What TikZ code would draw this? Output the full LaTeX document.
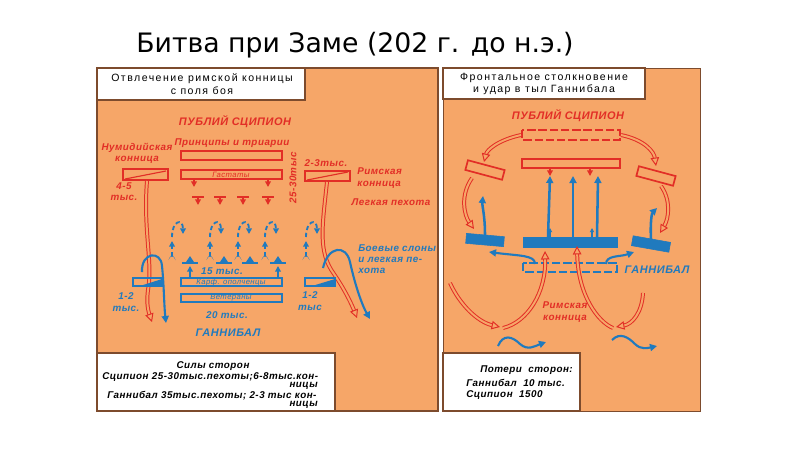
\documentclass[tikz,border=0pt]{standalone}
\usepackage{fontspec}
\setmainfont{DejaVu Sans}
\newfontfamily\lblfont[LetterSpace=5]{Liberation Sans}
\newfontfamily\hdrfont[LetterSpace=14]{Liberation Sans}
\usetikzlibrary{arrows.meta}

\definecolor{zorange}{RGB}{246,166,104}
\definecolor{zred}{RGB}{226,46,38}
\definecolor{zblue}{RGB}{32,122,190}
\definecolor{zbrown}{RGB}{125,75,45}

\tikzset{
    lbl/.style={font=\lblfont\bfseries\itshape\fontsize{7}{8}\selectfont, inner sep=0pt, align=center},
    redlbl/.style={lbl, text=zred},
    bluelbl/.style={lbl, text=zblue},
    biglbl/.style={font=\lblfont\bfseries\itshape\fontsize{7.8}{9}\selectfont},
    hdr/.style={font=\hdrfont\fontsize{7.5}{9}\selectfont, inner sep=0pt, align=center},
    redarr/.style={draw=zred, line width=0.7pt, double=zorange, double distance=1.4pt,
        -{Triangle[open, fill=zorange, length=6pt, width=6pt]}},
    bluearr/.style={draw=zblue, line width=1.8pt, -{Triangle[length=5pt, width=5pt]}},
    bluedash/.style={draw=zblue, line width=1.3pt, dash pattern=on 3pt off 2pt, -{Triangle[length=4pt, width=4pt]}},
    redbox/.style={draw=zred, line width=1.2pt, fill=zorange, minimum width=38*0.025cm, minimum height=10*0.025cm, inner sep=0pt},
    bluebox/.style={draw=zblue, fill=zblue, minimum width=38*0.025cm, minimum height=10*0.025cm, inner sep=0pt}
}

\begin{document}
\begin{tikzpicture}[x=0.025cm, y=-0.025cm]
    \useasboundingbox (0,0) rectangle (800,449);

    % title
    \node (title) at (355,45) {\fontsize{19}{21}\selectfont Битва при Заме (202 г. до н.э.)};

    % panels
    \fill[zorange] (97,68) rectangle (438,411);
    \fill[zorange] (443,68) rectangle (700,411);
    \draw[zbrown, line width=1pt] (97,68) rectangle (438,411);
    \draw[zbrown, line width=0.6pt] (443,68) rectangle (700,411);

    % white boxes
    \draw[zbrown, fill=white, line width=0.8pt] (97,68) rectangle (305,100);
    \draw[zbrown, fill=white, line width=0.8pt] (443,68) rectangle (645,99);
    \draw[zbrown, fill=white, line width=0.8pt] (97,353) rectangle (335,411);
    \draw[zbrown, fill=white, line width=0.8pt] (443,353) rectangle (580,411);

    \node[hdr] (hdrL) at (202,84) {Отвлечение римской конницы\\с поля боя};
    \node[hdr] (hdrR) at (544,84) {Фронтальное столкновение\\и удар в тыл Ганнибала};

    \node[lbl] (forces) at (213,366) {Силы сторон};
    \node[lbl, anchor=west] (forcesA) at (102,377) {Сципион 25-30тыс.пехоты;6-8тыс.кон-};
    \node[lbl, anchor=east] (forcesB) at (318,386) {ницы};
    \node[lbl, anchor=west] (forcesC) at (107,396) {Ганнибал 35тыс.пехоты; 2-3 тыс кон-};
    \node[lbl, anchor=east] (forcesD) at (318,405) {ницы};

    \node[lbl, anchor=west] (lossA) at (480,370) {Потери \ сторон:};
    \node[lbl, anchor=west] (lossB) at (466,383) {Ганнибал \ 10 тыс.};
    \node[lbl, anchor=west] (lossC) at (466,395) {Сципион \ 1500};

    % ---- left panel: Scipio ----
    \node[redlbl, biglbl] (scipioL) at (235,122) {ПУБЛИЙ СЦИПИОН};
    \node[redlbl] (princ) at (232,143) {Принципы и триарии};
    \draw[zred, line width=1.2pt] (181,151) rectangle (282,160);
    \draw[zred, line width=1.2pt] (181,170) rectangle (282,179);
    \node[redlbl, font=\lblfont\itshape\fontsize{5.5}{6}\selectfont] (hast) at (231,174.5) {Гастаты};
    \node[redlbl] (numid) at (137,153) {Нумидийская\\конница};
    \draw[zred, line width=1.2pt] (123,169) rectangle (168,180);
    \draw[zred, line width=0.8pt] (125,179) -- (166,171);
    \node[redlbl] (numidN) at (124,192) {4-5\\тыс.};
    \draw[zred, line width=1.2pt] (305,171) rectangle (350,181);
    \draw[zred, line width=0.8pt] (307,180) -- (348,172);
    \node[redlbl] (romN) at (326,163) {2-3тыс.};
    \node[redlbl, align=left, anchor=west] (romcav) at (357,178) {Римская\\конница};
    \node[redlbl] (velites) at (391,202) {Легкая пехота};
    \node[redlbl, rotate=90] (infN) at (293,178) {25-30тыс};

    % small arrows under hastati and velites
    \foreach \x in {194,268}
        \draw[zred, line width=1pt, -{Triangle[length=4pt, width=4pt]}] (\x,179) -- (\x,187);
    \foreach \x in {198,220,243,268} {
        \draw[zred, line width=1.5pt] (\x-6,197) -- (\x+6,197);
        \draw[zred, line width=1pt, -{Triangle[length=4pt, width=4pt]}] (\x,197) -- (\x,205);
    }

    % cavalry pull away
    \draw[redarr] (147,181) .. controls (143,230) and (153,262) .. (148,290)
        .. controls (146,305) and (149,313) .. (152,322);
    \draw[redarr] (327,182) .. controls (322,228) and (318,252) .. (334,274)
        .. controls (345,290) and (352,305) .. (357,318);

    % ---- left panel: Hannibal ----
    \foreach \x in {172,210,238,265,306} {
        \draw[bluedash] (\x,256) -- (\x,241);
        \draw[bluedash] (\x,237) .. controls (\x,220) and (\x+11,218) .. (\x+11,234);
        \fill[zblue] (\x,254) -- (\x-3.5,260) arc[start angle=180, end angle=360, radius=3.5] -- cycle;
    }
    \foreach \x in {190,224,250,278} {
        \draw[zblue, line width=1.6pt] (\x-8,263) -- (\x+8,263);
        \fill[zblue] (\x-4,262) -- (\x+4,262) -- (\x,256) -- cycle;
    }
    \foreach \x in {190,278}
        \draw[zblue, line width=1.2pt, -{Triangle[length=4pt, width=4pt]}] (\x,277) -- (\x,266);
    \node[bluelbl] (hanN) at (222,271) {15 тыс.};
    \draw[zblue, line width=2pt] (181,278) rectangle (282,286);
    \node[bluelbl, font=\lblfont\itshape\fontsize{5.5}{6}\selectfont] (militia) at (231,282) {Карф. ополченцы};
    \draw[zblue, line width=2pt] (181,294) rectangle (282,302);
    \node[bluelbl, font=\lblfont\itshape\fontsize{5.5}{6}\selectfont] (vets) at (231,298) {Ветераны};
    \node[bluelbl] (vetN) at (227,315) {20 тыс.};
    \node[bluelbl, biglbl] (hannibalL) at (228,333) {ГАННИБАЛ};

    \draw[zblue, line width=1.6pt] (133,278) rectangle (162,286);
    \fill[zblue] (140,286) -- (162,286) -- (162,279) -- cycle;
    \node[bluelbl] (carcavL) at (126,302) {1-2\\тыс.};
    \draw[zblue, line width=1.6pt] (305,278) rectangle (335,286);
    \fill[zblue] (312,286) -- (335,286) -- (335,279) -- cycle;
    \node[bluelbl] (carcavR) at (310,301) {1-2\\тыс};
    \node[bluelbl, align=left, anchor=west] (eleph) at (358,259) {Боевые слоны\\и легкая пе-\\хота};

    \draw[bluearr, line width=1.5pt] (142,272) .. controls (141,252) and (161,250) .. (162,266)
        .. controls (164,285) and (164,305) .. (166,323);
    \draw[bluearr, line width=1.5pt] (323,268) .. controls (328,246) and (346,244) .. (350,262)
        .. controls (355,285) and (362,305) .. (370,319);

    % ---- right panel: Scipio ----
    \node[redlbl, biglbl] (scipioR) at (568,116) {ПУБЛИЙ СЦИПИОН};
    \draw[zred, line width=1.2pt, dash pattern=on 6pt off 2pt] (522,130) rectangle (620,140);
    \draw[zred, line width=1.2pt] (522,159) rectangle (620,168);
    \foreach \x in {550,590}
        \draw[zred, line width=1pt, -{Triangle[length=4pt, width=4pt]}] (\x,168) -- (\x,176);
    \node[redbox, rotate=-15] (flankL) at (485,170) {};
    \node[redbox, rotate=-15] (flankR) at (656,176) {};

    \draw[redarr] (521,135) .. controls (498,140) and (487,150) .. (484,162);
    \draw[redarr] (621,135) .. controls (645,140) and (654,152) .. (656,166);
    \draw[redarr] (472,178) .. controls (460,195) and (464,215) .. (474,229);
    \draw[redarr] (661,186) .. controls (671,200) and (669,218) .. (660,233);

    % ---- right panel: Hannibal ----
    \draw[zblue, fill=zblue] (523,237) rectangle (617,247);
    \node[bluebox, rotate=-5] (wingL) at (485,240) {};
    \node[bluebox, rotate=-10] (wingR) at (651,244) {};
    \draw[zblue, line width=1.5pt, dash pattern=on 6pt off 2pt] (523,263) rectangle (617,272);
    \node[bluelbl, biglbl] (hannibalR) at (657,270) {ГАННИБАЛ};

    \draw[bluearr] (548,237) -- (550,176);
    \draw[bluearr] (573,237) -- (573,176);
    \draw[bluearr] (597,237) -- (598,176);
    \foreach \x in {550,592}
        \draw[zblue, line width=1pt, -{Triangle[length=3pt, width=3pt]}] (\x,237) -- (\x,228);
    \draw[bluearr] (485,235) .. controls (485,215) and (482,206) .. (483,196);
    \draw[bluearr] (651,239) .. controls (650,222) and (652,213) .. (657,208);
    \draw[bluearr, line width=1.5pt] (535,264) .. controls (535,255) and (520,256) .. (489,252);
    \draw[bluearr, line width=1.5pt] (606,264) .. controls (606,255) and (620,257) .. (634,252);

    % cavalry returns
    \draw[redarr] (450,283) .. controls (460,305) and (478,322) .. (500,327);
    \draw[redarr] (503,328) .. controls (528,322) and (546,292) .. (545,251);
    \draw[redarr] (643,293) .. controls (642,313) and (632,324) .. (616,327);
    \draw[redarr] (613,328) .. controls (598,322) and (578,295) .. (577,246);
    \node[redlbl] (romcavR) at (565,312) {Римская\\конница};

    \draw[bluearr, line width=1.5pt] (498,346) .. controls (503,334) and (512,336) .. (520,344)
        .. controls (528,351) and (535,346) .. (546,342);
    \draw[bluearr, line width=1.5pt] (612,340) .. controls (620,332) and (628,337) .. (635,344)
        .. controls (641,350) and (648,348) .. (657,346);
\end{tikzpicture}
\end{document}
